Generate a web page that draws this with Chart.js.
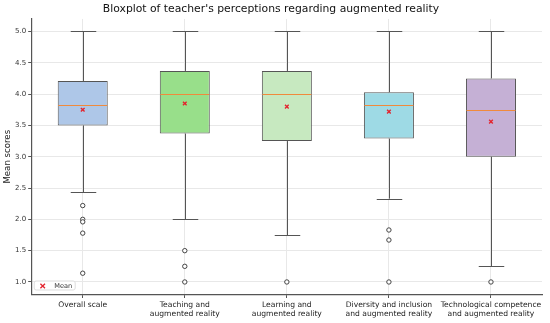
<!DOCTYPE html>
<html>
<head>
<meta charset="utf-8">
<script src="https://cdn.jsdelivr.net/npm/chart.js@4/dist/chart.umd.min.js"></script>
<style>
  html, body { margin: 0; padding: 0; background: #fff; }
  #wrap { width: 550px; height: 323px; }
</style>
</head>
<body>
<div id="wrap"><canvas id="myCanvas"></canvas></div>
<script>
// categories and box statistics
const categories = [
    'Overall scale',
    'Teaching and augmented reality',
    'Learning and augmented reality',
    'Diversity and inclusion and augmented reality',
    'Technological competence and augmented reality'
];
const tickLines = [
    ['Overall scale'],
    ['Teaching and', 'augmented reality'],
    ['Learning and', 'augmented reality'],
    ['Diversity and inclusion', 'and augmented reality'],
    ['Technological competence', 'and augmented reality']
];
const q1 = [3.5, 3.37, 3.25, 3.29, 3.0];
const q3 = [4.21, 4.37, 4.37, 4.03, 4.25];
const medians = [3.83, 4.0, 4.0, 3.83, 3.75];
const means = [3.75, 3.85, 3.8, 3.72, 3.56];
const whiskerLow = [2.43, 2.0, 1.75, 2.33, 1.25];
const whiskerHigh = [5.0, 5.0, 5.0, 5.0, 5.0];
const outliers = [
    [2.22, 2.0, 1.96, 1.78, 1.14],
    [1.5, 1.25, 1.0],
    [1.0],
    [1.83, 1.67, 1.0],
    [1.0]
];
const yTicks = [1.0, 1.5, 2.0, 2.5, 3.0, 3.5, 4.0, 4.5, 5.0];
const boxColors = ['#aec7e8', '#98df8a', '#c7e9c0', '#9edae5', '#c5b0d5'];

const edgeColor = '#555555';
const medianColor = '#f08a3c';
const meanColor = '#e3252f';
const gridColor = '#e8e8e8';
const font = 'DejaVu Sans';

const boxPlotLines = {
    id: 'boxPlotLines',
    beforeDatasetsDraw(chart) {
        const x = chart.scales.x, y = chart.scales.y;
        const ctx = chart.ctx;
        const step = x.getPixelForValue(1) - x.getPixelForValue(0);
        ctx.save();
        ctx.strokeStyle = edgeColor;
        ctx.lineWidth = 1;
        categories.forEach((c, i) => {
            const cx = Math.round(x.getPixelForValue(i)) + 0.5;
            const half = step * 0.125;
            ctx.beginPath();
            ctx.moveTo(cx, y.getPixelForValue(q3[i]));
            ctx.lineTo(cx, y.getPixelForValue(whiskerHigh[i]));
            ctx.moveTo(cx, y.getPixelForValue(q1[i]));
            ctx.lineTo(cx, y.getPixelForValue(whiskerLow[i]));
            const top = Math.round(y.getPixelForValue(whiskerHigh[i])) + 0.5;
            const bot = Math.round(y.getPixelForValue(whiskerLow[i])) + 0.5;
            ctx.moveTo(cx - half, top);
            ctx.lineTo(cx + half, top);
            ctx.moveTo(cx - half, bot);
            ctx.lineTo(cx + half, bot);
            ctx.stroke();
        });
        ctx.restore();
    },
    afterDatasetDraw(chart, args) {
        if (args.index !== 0) return;
        const y = chart.scales.y;
        const ctx = chart.ctx;
        const meta = chart.getDatasetMeta(0);
        ctx.save();
        ctx.strokeStyle = medianColor;
        ctx.lineWidth = 1;
        meta.data.forEach((bar, i) => {
            const py = Math.round(y.getPixelForValue(medians[i])) + 0.5;
            ctx.beginPath();
            ctx.moveTo(bar.x - bar.width / 2 + 0.5, py);
            ctx.lineTo(bar.x + bar.width / 2 - 0.5, py);
            ctx.stroke();
        });
        ctx.restore();
    },
    afterDraw(chart) {
        // small legend in the lower-left corner of the plot
        const area = chart.chartArea;
        const ctx = chart.ctx;
        const bx = area.left + 2.5, by = area.bottom - 13.5, bw = 41, bh = 9;
        ctx.save();
        ctx.fillStyle = 'rgba(255,255,255,0.85)';
        ctx.strokeStyle = '#dddddd';
        ctx.lineWidth = 1;
        ctx.beginPath();
        ctx.roundRect(bx, by, bw, bh, 2);
        ctx.fill();
        ctx.stroke();
        const mx = bx + 8.5, my = by + bh / 2 + 0.5;
        ctx.strokeStyle = meanColor;
        ctx.lineWidth = 1.3;
        ctx.beginPath();
        ctx.moveTo(mx - 2.3, my - 2.3); ctx.lineTo(mx + 2.3, my + 2.3);
        ctx.moveTo(mx - 2.3, my + 2.3); ctx.lineTo(mx + 2.3, my - 2.3);
        ctx.stroke();
        ctx.fillStyle = '#333';
        ctx.font = '6.6px "' + font + '"';
        ctx.textBaseline = 'middle';
        ctx.fillText('Mean', bx + 20, my);
        ctx.restore();
    }
};

const outlierPoints = [];
outliers.forEach((list, i) => list.forEach(v => outlierPoints.push({ x: categories[i], y: v })));

const dataConfig = {
    labels: categories,
    datasets: [{
        type: 'bar',
        label: 'box',
        data: categories.map((c, i) => [q1[i], q3[i]]),
        backgroundColor: boxColors,
        borderColor: edgeColor,
        borderWidth: 1,
        borderSkipped: false,
        barPercentage: 0.49,
        categoryPercentage: 1,
        order: 3
    }, {
        type: 'line',
        label: 'outliers',
        data: outlierPoints,
        showLine: false,
        pointStyle: 'circle',
        pointRadius: 2.2,
        pointBorderWidth: 1,
        pointBackgroundColor: '#ffffff',
        pointBorderColor: '#444444',
        order: 2
    }, {
        type: 'line',
        label: 'Mean',
        data: means.map((v, i) => ({ x: categories[i], y: v })),
        showLine: false,
        pointStyle: 'crossRot',
        pointRadius: 2.6,
        pointBorderWidth: 1.4,
        pointBorderColor: meanColor,
        order: 1
    }]
};

const config = {
    type: 'bar',
    data: dataConfig,
    plugins: [boxPlotLines],
    options: {
        responsive: true,
        maintainAspectRatio: false,
        animation: false,
        layout: { padding: { left: 0, right: 8, top: 0, bottom: 0 } },
        plugins: {
            legend: { display: false },
            tooltip: { enabled: false },
            title: {
                display: true,
                text: "Bloxplot of teacher's perceptions regarding augmented reality",
                color: '#111',
                font: { family: font, size: 10.8, weight: 'normal' },
                padding: { top: 3, bottom: 3 }
            }
        },
        scales: {
            x: {
                grid: { color: gridColor, offset: false, tickLength: 3.5, tickColor: edgeColor },
                border: { color: edgeColor, width: 1.2 },
                ticks: {
                    color: '#222',
                    font: { family: font, size: 7.6, lineHeight: 1.22 },
                    padding: 2,
                    maxRotation: 0,
                    autoSkip: false,
                    callback: (v, i) => tickLines[i]
                },
                afterFit: s => { s.height = 28.5; }
            },
            y: {
                min: 0.8,
                max: 5.2,
                grid: { color: gridColor, tickLength: 3.5, tickColor: edgeColor },
                border: { color: edgeColor, width: 1.2 },
                afterBuildTicks: s => { s.ticks = yTicks.map(v => ({ value: v })); },
                ticks: {
                    color: '#333',
                    font: { family: font, size: 7 },
                    padding: 2,
                    callback: v => v.toFixed(1)
                },
                title: {
                    display: true,
                    text: 'Mean scores',
                    color: '#222',
                    font: { family: font, size: 8.6 },
                    padding: { top: 3, bottom: 0 }
                },
                afterFit: s => { s.width = 31.7; }
            }
        }
    }
};

const myChart = new Chart(document.getElementById('myCanvas'), config);
</script>
</body>
</html>
